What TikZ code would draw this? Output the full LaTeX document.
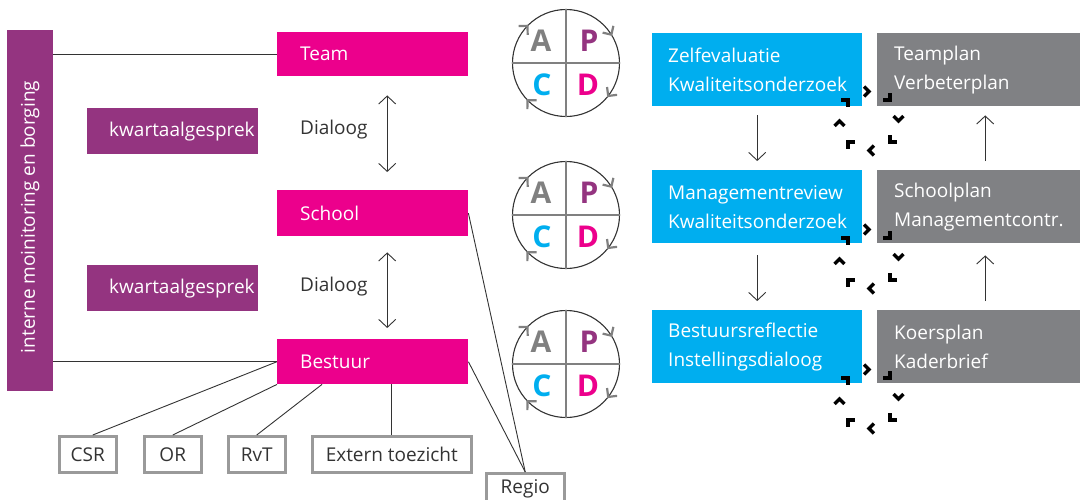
\documentclass[tikz,border=0pt]{standalone}
\usepackage{fontspec}
\setmainfont{Open Sans}
\usetikzlibrary{arrows.meta,calc}
\definecolor{mag}{HTML}{EC008C}
\definecolor{pur}{HTML}{943480}
\definecolor{cya}{HTML}{00AEEF}
\definecolor{gbox}{HTML}{808184}
\definecolor{ink}{HTML}{333333}
\definecolor{obox}{HTML}{9A9A9A}
\definecolor{pdgray}{HTML}{808080}
\newcommand\mychev[6]{%
  \draw[#6] ({#1+#3*cos(#4)+#5*cos(315-#4)},{#2-#3*sin(#4)+#5*sin(315-#4)})
    -- ({#1+#3*cos(#4)},{#2-#3*sin(#4)})
    -- ({#1+#3*cos(#4)+#5*cos(225-#4)},{#2-#3*sin(#4)+#5*sin(225-#4)});}
\begin{document}
\begin{tikzpicture}[x=1pt,y=-1pt,
  lbl/.style={font=\fontsize{19}{29}\selectfont, inner sep=0pt, align=left},
  fbox/.style={anchor=north west, inner sep=0pt, draw=none},
  obx/.style={draw=obox, line width=2.5pt, anchor=north west, minimum height=36pt,
              inner sep=0pt, text=ink, font=\fontsize{19}{29}\selectfont},
  conn/.style={draw=ink, line width=0.9pt},
  dbl/.style={conn, {Straight Barb[length=8pt,width=17pt]}-{Straight Barb[length=8pt,width=17pt]}},
  sgl/.style={conn, -{Straight Barb[length=8pt,width=17pt]}},
  pdca/.style={circle, draw=ink, line width=1.1pt, minimum size=107pt, inner sep=0pt},
  pdl/.style={font=\fontsize{30}{30}\selectfont\bfseries, inner sep=0pt},
  cyc/.style={line width=3.5pt, black, line cap=butt, line join=miter},
  pdc/.style={line width=2.2pt, pdgray, line cap=butt, line join=miter}
]
\useasboundingbox (0,0) rectangle (1081,499);

% left bar
\node[fbox, fill=pur, minimum width=46pt, minimum height=361pt] (bar) at (7,30) {};
\node[lbl, text=white, rotate=90] (bartxt) at (30,217) {interne moinitoring en borging};

% magenta boxes
\node[fbox, fill=mag, minimum width=191pt, minimum height=44pt] (team) at (277,32) {};
\node[lbl, text=white, anchor=west] (teamt) at ([xshift=23pt]team.west) {Team};
\node[fbox, fill=mag, minimum width=191pt, minimum height=46pt] (school) at (277,190) {};
\node[lbl, text=white, anchor=west] (schoolt) at ([xshift=23pt]school.west) {School};
\node[fbox, fill=mag, minimum width=191pt, minimum height=45pt] (bestuur) at (277,339) {};
\node[lbl, text=white, anchor=west] (bestuurt) at ([xshift=23pt]bestuur.west) {Bestuur};

% kwartaalgesprek
\node[fbox, fill=pur, minimum width=171pt, minimum height=46pt] (kw1) at (87,108) {};
\node[lbl, text=white, anchor=west] (kw1t) at ([xshift=22pt]kw1.west) {kwartaalgesprek};
\node[fbox, fill=pur, minimum width=171pt, minimum height=46pt] (kw2) at (87,265) {};
\node[lbl, text=white, anchor=west] (kw2t) at ([xshift=22pt]kw2.west) {kwartaalgesprek};

% Dialoog
\node[lbl, text=ink, anchor=west] (dia1) at (300,130) {Dialoog};
\node[lbl, text=ink, anchor=west] (dia2) at (300,287) {Dialoog};
\draw[dbl] ([xshift=14.5pt,yshift=-19pt]team.south) -- ([xshift=14.5pt,yshift=18pt]school.north);
\draw[dbl] ([xshift=14.5pt,yshift=-16pt]school.south) -- ([xshift=14.5pt,yshift=11pt]bestuur.north);

% bar connectors
\draw[conn] (bar.east |- team.west) -- (team.west);
\draw[conn] (bar.east |- bestuur.west) -- (bestuur.west);

% outline boxes
\node[obx, minimum width=57pt] (csr) at (58,435) {CSR};
\node[obx, minimum width=57pt] (or) at (143,435) {OR};
\node[obx, minimum width=57pt] (rvt) at (227,435) {RvT};
\node[obx, minimum width=159pt] (ext) at (311,435) {Extern toezicht};
\node[obx, minimum width=78pt, minimum height=31pt] (regio) at (485,472) {Regio};

\draw[conn] (bestuur.west) -- ([xshift=5pt]csr.north);
\draw[conn] (bestuur.south west) -- (or.north);
\draw[conn] ([xshift=45pt]bestuur.south west) -- (rvt.north);
\draw[conn] (ext.north) -- (ext.north |- bestuur.south);
\draw[conn] (bestuur.east) -- (regio.north);
\draw[conn] (school.east) -- (regio.north);

% PDCA circles
\foreach \n/\cy in {1/63,2/215,3/364}{
  \node[pdca] (c\n) at (566,\cy) {};
  \draw[pdgray, line width=1.1pt] (c\n.north) -- (c\n.south);
  \draw[pdgray, line width=1.1pt] (c\n.west) -- (c\n.east);
  \node[pdl, text=pdgray] (a\n) at ($(c\n)+(-25,-22)$) {A};
  \node[pdl, text=pur] (p\n) at ($(c\n)+(23,-22)$) {P};
  \node[pdl, text=cya] (cc\n) at ($(c\n)+(-24,22)$) {C};
  \node[pdl, text=mag] (d\n) at ($(c\n)+(22,22)$) {D};
  \foreach \a in {136,32,322,224}{\mychev{566}{\cy}{53.5}{\a}{9}{pdc}}
}

% right side boxes
\foreach \n/\ty/\la/\lb/\ra/\rb in {1/33/Zelfevaluatie/Kwaliteitsonderzoek/Teamplan/Verbeterplan,
  2/170/Managementreview/Kwaliteitsonderzoek/Schoolplan/Managementcontr.,
  3/310/Bestuursreflectie/Instellingsdialoog/Koersplan/Kaderbrief}{
  \node[fbox, fill=cya, minimum width=210pt, minimum height=73pt] (b\n) at (652,\ty) {};
  \node[lbl, text=white, anchor=west] (b\n t) at ([xshift=16pt]b\n.west) {\la\\\lb};
  \node[fbox, fill=gbox, minimum width=203pt, minimum height=73pt] (g\n) at (877,\ty) {};
  \node[lbl, text=white, anchor=west] (g\n t) at ([xshift=17pt]g\n.west) {\ra\\\rb};
}
\foreach \cy in {121,259,399}{
  \foreach \a in {90,45,0,315,270,225,180,135}{\mychev{869}{\cy}{29.5}{\a}{7}{cyc}}
}
\draw[sgl] ([yshift=-9pt]b1.south) -- ([yshift=9pt]b2.north);
\draw[sgl] ([yshift=-12pt]b2.south) -- ([yshift=9pt]b3.north);
\draw[sgl] ([xshift=6.5pt,yshift=9pt]g2.north) -- ([xshift=6.5pt,yshift=-9pt]g1.south);
\draw[sgl] ([xshift=6.5pt,yshift=9pt]g3.north) -- ([xshift=6.5pt,yshift=-12pt]g2.south);
\end{tikzpicture}
\end{document}
